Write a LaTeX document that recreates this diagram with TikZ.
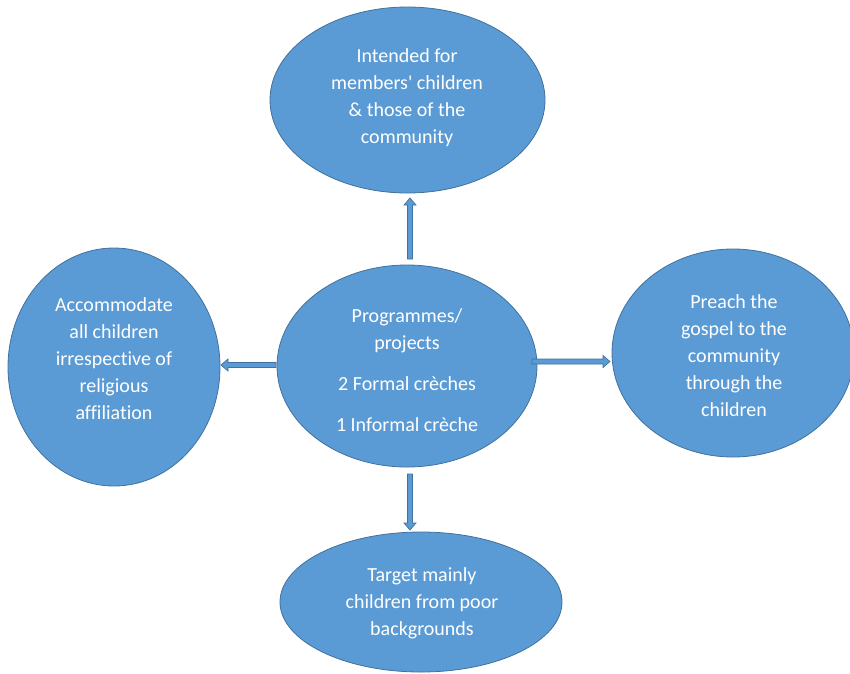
\documentclass[tikz,border=0pt]{standalone}
\usepackage{fontspec}
\setmainfont[Ligatures={NoCommon}]{Carlito}
\usetikzlibrary{shapes.geometric,calc}
\definecolor{bfill}{HTML}{5B9BD5}
\definecolor{bline}{HTML}{41719C}
\tikzset{
  bubble/.style={ellipse, fill=bfill, draw=bline, line width=0.8pt, inner sep=0pt},
  btext/.style={text=white, align=center, font=\fontsize{20}{27}\selectfont, inner sep=0pt},
  barrow/.style={fill=bfill, draw=bline, line width=0.7pt, line join=miter}
}
\newcommand{\blockarrow}[2]{%
  \coordinate (bh) at ($(#2)!7pt!(#1)$);
  \filldraw[barrow] ($(#1)!2.5pt!90:(#2)$) -- ($(bh)!2.5pt!-90:(#1)$) -- ($(bh)!6pt!-90:(#1)$) -- (#2) -- ($(bh)!6pt!90:(#1)$) -- ($(bh)!2.5pt!90:(#1)$) -- ($(#1)!2.5pt!-90:(#2)$) -- cycle;}
\begin{document}
\begin{tikzpicture}[x=1pt,y=-1pt]
\useasboundingbox (0,0) rectangle (850,673);
\clip (0,0) rectangle (850,673);
% ellipses
\node[bubble, minimum width=275pt, minimum height=186pt] (T) at (407.5,100) {};
\node[bubble, minimum width=260pt, minimum height=202pt] (C) at (407,366) {};
\node[bubble, minimum width=212pt, minimum height=238pt] (L) at (114,367) {};
\node[bubble, minimum width=242pt, minimum height=208pt] (R) at (733,353) {};
\node[bubble, minimum width=282pt, minimum height=140pt] (B) at (421,602) {};
% texts
\node[btext] (Tt) at (407,98) {Intended for\\members\textquotesingle{} children\\\& those of the\\community};
\node[btext] (Ct) at (407,370) {Programmes/\\projects\\[14pt]2 Formal crèches\\[14pt]1 Informal crèche};
\node[btext] (Lt) at (114,359) {Accommodate\\all children\\irrespective of\\religious\\affiliation};
\node[btext] (Rt) at (734,356) {Preach the\\gospel to the\\community\\through the\\children};
\node[btext] (Bt) at (422,603) {Target mainly\\children from poor\\backgrounds};
% arrow end points
\coordinate (u0) at (410,259);
\coordinate (u1) at (410,198);
\coordinate (l0) at (276,365);
\coordinate (l1) at (221,365);
\coordinate (r0) at (532,361.5);
\coordinate (r1) at (610,361.5);
\coordinate (d0) at (410,474);
\coordinate (d1) at (410,530);
\blockarrow{u0}{u1}
\blockarrow{l0}{l1}
\blockarrow{r0}{r1}
\blockarrow{d0}{d1}
\end{tikzpicture}
\end{document}
